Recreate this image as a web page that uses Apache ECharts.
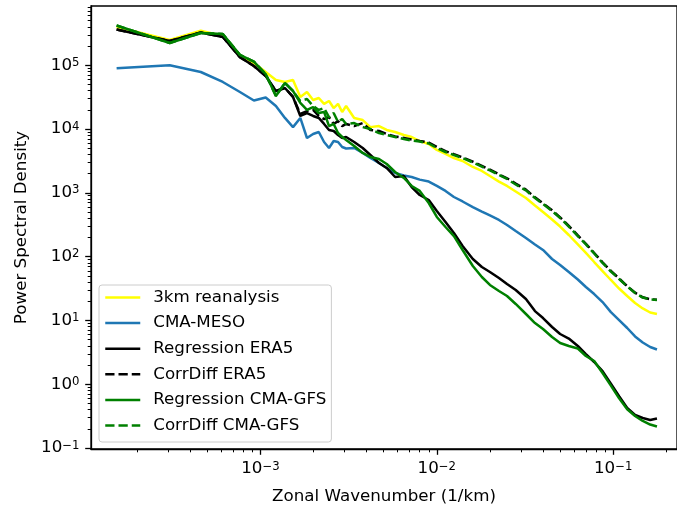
<!DOCTYPE html>
<html><head><meta charset="utf-8">
<script src="https://cdn.jsdelivr.net/npm/echarts@6/dist/echarts.min.js"></script>
<style>html,body{margin:0;padding:0;background:#fff}#c{width:677px;height:512px}</style>
</head><body><div id="c"></div>
<script>
const wavenumber = [1.53e-4, 3.06e-4, 4.59e-4, 6.12e-4, 7.65e-4, 9.18e-4, 1.071e-3, 1.224e-3, 1.377e-3, 1.53e-3,
  1.683e-3, 1.836e-3, 1.989e-3, 2.142e-3, 2.295e-3, 2.448e-3, 2.601e-3, 2.754e-3, 2.907e-3, 3.06e-3,
  3.4e-3, 3.8e-3, 4.2e-3, 4.7e-3, 5.2e-3, 5.8e-3, 6.5e-3, 7.2e-3, 8.0e-3, 9.0e-3,
  1.0e-2, 1.12e-2, 1.25e-2, 1.4e-2, 1.6e-2, 1.8e-2, 2.0e-2, 2.25e-2, 2.5e-2, 2.8e-2,
  3.2e-2, 3.6e-2, 4.0e-2, 4.5e-2, 5.0e-2, 5.6e-2, 6.3e-2, 7.0e-2, 7.8e-2, 8.7e-2,
  9.7e-2, 0.108, 0.12, 0.133, 0.147, 0.162, 0.177];

const reanalysis3km = [3.97e5, 2.48e5, 3.47e5, 2.87e5, 1.39e5, 1.08e5, 7.82e4, 5.86e4, 5.46e4, 5.86e4,
  3.18e4, 3.80e4, 2.85e4, 3.06e4, 2.47e4, 2.75e4, 2.13e4, 2.47e4, 1.85e4, 2.29e4,
  1.49e4, 1.38e4, 1.07e4, 1.11e4, 9.65e3, 8.97e3, 8.05e3, 7.49e3, 6.48e3, 5.82e3,
  4.69e3, 4.06e3, 3.51e3, 3.15e3, 2.54e3, 2.20e3, 1.83e3, 1.50e3, 1.28e3, 1.05e3,
  828, 632, 500, 381, 296, 218, 155, 114, 82.2, 59.4,
  43.0, 31.6, 24.1, 18.7, 15.4, 13.3, 12.6];

const cmaMeso = [8.94e4, 9.96e4, 7.82e4, 5.46e4, 3.80e4, 2.80e4, 3.12e4, 2.29e4, 1.49e4, 1.07e4,
  1.49e4, 7.23e3, 8.35e3, 8.97e3, 6.25e3, 5.04e3, 6.48e3, 6.25e3, 5.22e3, 4.94e3,
  5.04e3, 4.21e3, 3.51e3, 2.93e3, 2.45e3, 2.04e3, 1.87e3, 1.77e3, 1.61e3, 1.50e3,
  1.28e3, 1.07e3, 859, 731, 598, 509, 441, 375, 313, 252,
  196, 155, 127, 91.7, 73.8, 57.4, 43.7, 33.4, 25.9, 19.4,
  13.5, 10.1, 7.60, 5.60, 4.51, 3.83, 3.50];

const regressionEra5 = [3.63e5, 2.40e5, 3.25e5, 2.77e5, 1.34e5, 9.71e4, 6.77e4, 3.94e4, 4.39e4, 3.18e4,
  1.60e4, 1.78e4, 1.60e4, 1.49e4, 1.20e4, 9.65e3, 9.31e3, 8.05e3, 7.23e3, 7.49e3,
  6.25e3, 5.04e3, 3.91e3, 2.93e3, 2.45e3, 1.77e3, 1.83e3, 1.23e3, 924, 771,
  519, 348, 234, 147, 91.7, 68.7, 57.4, 46.2, 37.2, 29.9,
  21.6, 14.0, 10.9, 7.88, 6.12, 5.20, 3.97, 2.97, 2.23, 1.60,
  1.02, 0.65, 0.425, 0.329, 0.295, 0.275, 0.290];

const corrdiffEra5 = [3.63e5, 2.40e5, 3.25e5, 2.77e5, 1.34e5, 9.71e4, 6.77e4, 3.94e4, 4.39e4, 3.18e4,
  1.72e4, 1.91e4, 1.99e4, 1.60e4, 1.43e4, 1.54e4, 1.20e4, 1.33e4, 1.11e4, 1.20e4,
  1.11e4, 1.24e4, 9.65e3, 9.31e3, 8.35e3, 7.63e3, 7.23e3, 6.84e3, 6.48e3, 6.14e3,
  5.22e3, 4.48e3, 4.02e3, 3.60e3, 3.07e3, 2.65e3, 2.30e3, 1.95e3, 1.69e3, 1.39e3,
  1.12e3, 850, 685, 532, 412, 303, 215, 159, 114, 81.2,
  59.6, 45.4, 34.5, 27.2, 23.0, 21.4, 21.0];

const regressionCmaGfs = [4.19e5, 2.23e5, 3.20e5, 3.08e5, 1.45e5, 1.14e5, 7.28e4, 3.29e4, 5.26e4, 3.94e4,
  2.56e4, 1.99e4, 2.21e4, 1.78e4, 1.85e4, 1.11e4, 1.20e4, 8.65e3, 7.49e3, 6.73e3,
  5.42e3, 4.21e3, 3.64e3, 3.39e3, 2.83e3, 2.12e3, 1.71e3, 1.28e3, 1.07e3, 692,
  418, 291, 210, 127, 71.3, 47.9, 35.9, 28.9, 24.1, 18.1,
  12.6, 9.10, 7.33, 5.50, 4.43, 3.97, 3.63, 2.77, 2.31, 1.50,
  0.95, 0.60, 0.405, 0.318, 0.265, 0.233, 0.217];

const corrdiffCmaGfs = [4.19e5, 2.23e5, 3.20e5, 3.08e5, 1.45e5, 1.14e5, 7.28e4, 3.29e4, 5.26e4, 3.94e4,
  2.75e4, 2.95e4, 2.29e4, 1.99e4, 2.13e4, 1.54e4, 1.78e4, 1.29e4, 1.43e4, 1.20e4,
  1.24e4, 1.07e4, 1.00e4, 8.65e3, 8.05e3, 7.49e3, 6.97e3, 6.60e3, 6.37e3, 5.93e3,
  5.04e3, 4.36e3, 3.91e3, 3.51e3, 2.99e3, 2.58e3, 2.24e3, 1.90e3, 1.65e3, 1.35e3,
  1.09e3, 828, 667, 519, 403, 296, 210, 155, 112, 79.4,
  58.4, 44.6, 34.0, 26.9, 22.8, 21.3, 20.9];

const seriesNames = ['3km reanalysis', 'CMA-MESO', 'Regression ERA5', 'CorrDiff ERA5', 'Regression CMA-GFS', 'CorrDiff CMA-GFS'];

const xMajorTicks = [1e-3, 1e-2, 1e-1];
const xMinorTicks = [2e-4, 3e-4, 4e-4, 5e-4, 6e-4, 7e-4, 8e-4, 9e-4,
  2e-3, 3e-3, 4e-3, 5e-3, 6e-3, 7e-3, 8e-3, 9e-3,
  2e-2, 3e-2, 4e-2, 5e-2, 6e-2, 7e-2, 8e-2, 9e-2, 2e-1];
const yMajorTicks = [1e-1, 1, 10, 100, 1e3, 1e4, 1e5];
const yMinorTicks = [0.2, 0.3, 0.4, 0.5, 0.6, 0.7, 0.8, 0.9,
  2, 3, 4, 5, 6, 7, 8, 9,
  20, 30, 40, 50, 60, 70, 80, 90,
  200, 300, 400, 500, 600, 700, 800, 900,
  2e3, 3e3, 4e3, 5e3, 6e3, 7e3, 8e3, 9e3,
  2e4, 3e4, 4e4, 5e4, 6e4, 7e4, 8e4, 9e4,
  2e5, 3e5, 4e5, 5e5, 6e5, 7e5, 8e5];

const X_MIN = 1.0952e-4, X_MAX = 0.2299;
const Y_MIN = 0.09645, Y_MAX = 8.47e5;

const font = "'DejaVu Sans', sans-serif";
const FS = 16.7;
const pairs = arr => arr.map((v, i) => [wavenumber[i], v]);
function sup(v) {
  const e = Math.round(Math.log10(v));
  return '{b|10}{s|' + (e < 0 ? '\u2212' : '') + Math.abs(e) + '}';
}
const rich = {
  b: { fontSize: FS, fontFamily: font, color: '#000', padding: [7, 0, 0, 0], lineHeight: 17, verticalAlign: 'bottom' },
  s: { fontSize: 11.7, fontFamily: font, color: '#000', lineHeight: 12, verticalAlign: 'top' }
};

function axisPair(kind, min, max, major, minor, name, nameGap) {
  return [
    {
      type: 'log', logBase: 10, min: min, max: max,
      position: kind === 'x' ? 'bottom' : 'left',
      axisLine: { show: true, lineStyle: { color: '#000', width: 1.3 } },
      axisTick: { show: true, length: 5.8, lineStyle: { color: '#000', width: 1.3 }, customValues: major },
      axisLabel: { show: true, customValues: major, formatter: sup, rich: rich, margin: 11.5 },
      splitLine: { show: false }, minorTick: { show: false },
      name: name, nameLocation: 'middle', nameGap: nameGap,
      nameTextStyle: { fontSize: FS, fontFamily: font, color: '#000' }
    },
    {
      type: 'log', logBase: 10, min: min, max: max,
      position: kind === 'x' ? 'bottom' : 'left', offset: 0,
      axisLine: { show: false },
      axisTick: { show: true, length: 3.3, lineStyle: { color: '#000', width: 1 }, customValues: minor },
      axisLabel: { show: false },
      splitLine: { show: false }, minorTick: { show: false }
    }
  ];
}

const colors = ['#ffff00', '#1f77b4', '#000000', '#000000', '#008000', '#008000'];
const dash = [9.25, 4];
const types = ['solid', 'solid', 'solid', dash, 'solid', dash];
const datasets = [reanalysis3km, cmaMeso, regressionEra5, corrdiffEra5, regressionCmaGfs, corrdiffCmaGfs];

const chart = echarts.init(document.getElementById('c'), null, { renderer: 'canvas' });
chart.setOption({
  animation: false,
  backgroundColor: '#fff',
  grid: { left: 91, right: -2, top: 6, bottom: 63, show: true, borderColor: '#000', borderWidth: 1.3, backgroundColor: 'transparent' },
  xAxis: axisPair('x', X_MIN, X_MAX, xMajorTicks, xMinorTicks, 'Zonal Wavenumber (1/km)', 39.5),
  yAxis: axisPair('y', Y_MIN, Y_MAX, yMajorTicks, yMinorTicks, 'Power Spectral Density', 60),
  legend: {
    orient: 'vertical', left: 99, top: 285,
    itemWidth: 35, itemHeight: 16, itemGap: 8.6,
    padding: [4, 5, 8, 5],
    backgroundColor: 'rgba(255,255,255,0.8)', borderColor: '#cccccc', borderWidth: 1, borderRadius: 3,
    itemStyle: { opacity: 0, borderWidth: 0 },
    lineStyle: { width: 2.5 },
    textStyle: { fontSize: FS, fontFamily: font, color: '#000', lineHeight: 16, padding: [0, 0, 0, 8] },
    selectedMode: false,
    data: seriesNames
  },
  series: datasets.map((d, i) => ({
    type: 'line', name: seriesNames[i], data: pairs(d),
    xAxisIndex: 0, yAxisIndex: 0,
    symbol: 'none', showSymbol: false, silent: true,
    lineStyle: { color: colors[i], width: 2.5, type: types[i] },
    itemStyle: { color: colors[i] }
  }))
});
</script></body></html>
